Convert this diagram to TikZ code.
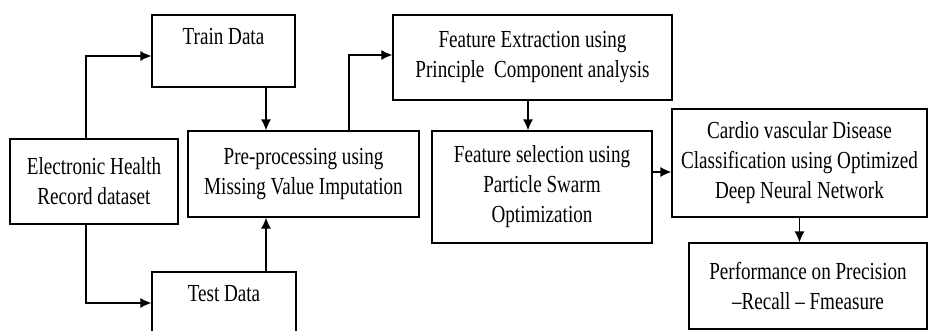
\documentclass[tikz,border=0pt]{standalone}
\usepackage{fontspec}
\setmainfont{Liberation Serif}[FakeStretch=0.78]
\usetikzlibrary{calc}
\usetikzlibrary{arrows.meta}

\begin{document}
\begin{tikzpicture}[x=1pt, y=-1pt,
  box/.style={rectangle, draw=black, line width=1.2pt, align=center, inner sep=0pt,
    font=\fontsize{24.5}{30}\selectfont},
  flow/.style={-{Latex[length=11pt,width=10pt]}, line width=1.3pt}]
 \useasboundingbox (0,0) rectangle (933,331);
 \clip (0,0) rectangle (933,331);
 % data boxes on the left
 \node [box, minimum width=168pt, minimum height=85pt] (EHR) at (94,181.5) {Electronic Health\\Record dataset};
 \node [box, minimum width=143pt, minimum height=72pt] (Train) at (223.5,51) {Train Data\\\mbox{}};
 \node [box, minimum width=144pt, minimum height=72pt] (Test) at (224,308) {Test Data\\\mbox{}};
 % processing chain
 \node [box, minimum width=231pt, minimum height=86pt] (Pre) at (303.5,174) {Pre-processing using\\Missing Value Imputation};
 \node [box, minimum width=279pt, minimum height=85pt] (FE) at (532.5,57.5) {Feature Extraction using\\Principle~ Component analysis};
 \node [box, minimum width=220pt, minimum height=112pt] (FS) at (542,187) {Feature selection using\\Particle Swarm\\Optimization};
 \node [box, minimum width=255pt, minimum height=108pt] (CVD) at (799.5,163) {Cardio vascular Disease\\Classification using Optimized\\Deep Neural Network};
 \node [box, minimum width=238pt, minimum height=86pt] (Perf) at (808,286) {Performance on Precision\\–Recall – Fmeasure};
 \draw [flow] ([xshift=-8pt]EHR.north) |- ([yshift=-5pt]Train.west);
 \draw [flow] ([xshift=-8pt]EHR.south) |- ([yshift=5pt]Test.west);
 \draw [flow] ([xshift=42.5pt]Train.south) -- ([xshift=-37.5pt]Pre.north);
 \draw [flow] ([xshift=42pt]Test.north) -- ([xshift=-37.5pt]Pre.south);
 \draw [flow] ([xshift=45.5pt]Pre.north) |- ([yshift=2.5pt]FE.west);
 \draw [flow] ([xshift=-4.5pt]FE.south) -- ([xshift=-14pt]FS.north);
 \draw [flow] ([yshift=15pt]FS.east) -- ([yshift=-9pt]CVD.west);
 \draw [flow] (CVD.south) -- ([xshift=-8.5pt]Perf.north);
\end{tikzpicture}
\end{document}
